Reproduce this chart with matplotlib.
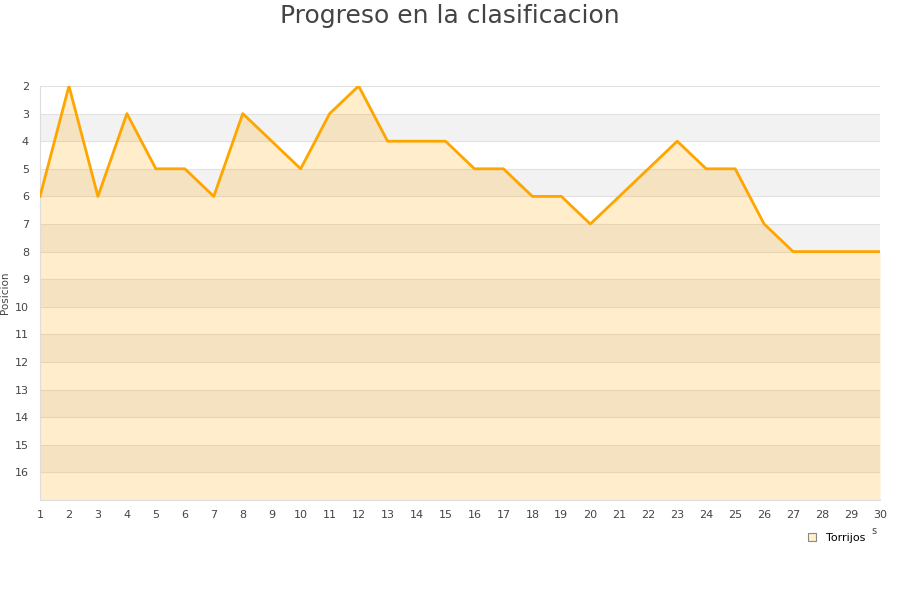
import matplotlib
matplotlib.use("Agg")
import matplotlib.pyplot as plt
from matplotlib.lines import Line2D

# datos: jornada y posicion
jornadas = list(range(1, 31))
posicion = [6, 2, 6, 3, 5, 5, 6, 3, 4, 5,
            3, 2, 4, 4, 4, 5, 5, 6, 6, 7,
            6, 5, 4, 5, 5, 7, 8, 8, 8, 8]
equipo = "Torrijos"
y_ticks = list(range(2, 17))

fig = plt.figure(figsize=(9, 6), dpi=100)
ax = fig.add_axes([40 / 900, 1 - 500 / 600, 840 / 900, 414 / 600])

# bandas alternas
for y in range(2, 17):
    if y % 2 == 1:
        ax.axhspan(y, y + 1, color="#f2f2f2", lw=0, zorder=0)
    ax.axhline(y, color="#e2e2e2", lw=0.8, zorder=1)

ax.fill_between(jornadas, posicion, 17, color="#ffa500", alpha=0.2, lw=0, zorder=2)
ax.plot(jornadas, posicion, color="#ffa500", lw=2, zorder=3)

ax.set_xlim(1, 30)
ax.set_ylim(17, 2)
ax.set_xticks(jornadas)
ax.set_yticks(y_ticks)
ax.tick_params(length=0, labelsize=8, colors="#444444", pad=8)
ax.tick_params(axis="x", pad=7)
for s in ["top", "right"]:
    ax.spines[s].set_visible(False)
ax.spines["left"].set_color("#dddddd")
ax.spines["bottom"].set_color("#dddddd")
ax.set_ylabel("Posicion", fontsize=7.5, color="#444444")
ax.yaxis.set_label_coords(-30 / 840, 0.5)

fig.text(0.5, 1 - 16 / 600, "Progreso en la clasificacion", ha="center", va="center",
         fontsize=18, color="#444444")
fig.text(874 / 900, 1 - 531 / 600, "s", ha="center", va="center",
         fontsize=7, color="#444444")

handle = Line2D([], [], marker="s", ls="none", markersize=6,
                markerfacecolor="#ffefcc", markeredgecolor="#888888", markeredgewidth=0.8)
fig.legend([handle], [equipo], loc="center", bbox_to_anchor=(833 / 900, 1 - 538 / 600),
           frameon=False, fontsize=8, handletextpad=0.3, borderaxespad=0)

plt.savefig("out.png")
